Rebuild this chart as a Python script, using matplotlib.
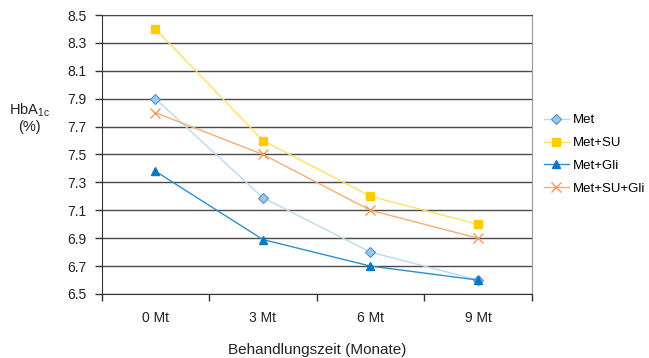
import matplotlib
matplotlib.use("Agg")
from matplotlib import pyplot as plt
import numpy as np

plt.rcParams['font.family'] = ['Liberation Sans', 'DejaVu Sans']
plt.rcParams['mathtext.fontset'] = 'custom'
plt.rcParams['mathtext.rm'] = 'Liberation Sans'

# data
months = ["0 Mt", "3 Mt", "6 Mt", "9 Mt"]
met = [7.9, 7.19, 6.8, 6.6]
met_su = [8.4, 7.6, 7.2, 7.0]
met_gli = [7.38, 6.89, 6.7, 6.6]
met_su_gli = [7.8, 7.5, 7.1, 6.9]
yticks = [6.5, 6.7, 6.9, 7.1, 7.3, 7.5, 7.7, 7.9, 8.1, 8.3, 8.5]

fig = plt.figure(figsize=(6.49, 3.58), dpi=100)
ax = fig.add_axes([0.1567, 0.1788, 0.6626, 0.7793])

x = np.arange(len(months))
ax.plot(x, met, color='#b9dbf2', lw=1, marker='D', ms=5,
        mfc='#9cc8ec', mec='#4f93cc', mew=0.8, label='Met')
ax.plot(x, met_su, color='#ffe066', lw=1, marker='s', ms=6,
        mfc='#ffcc00', mec='#ffcc00', label='Met+SU')
ax.plot(x, met_gli, color='#2d8fd0', lw=1, marker='^', ms=6,
        mfc='#0a78c2', mec='#0a78c2', label='Met+Gli')
ax.plot(x, met_su_gli, color='#f7ad78', lw=1, marker='x', ms=6.5,
        mec='#f39a5e', mew=1, label='Met+SU+Gli')

ax.set_xlim(-0.5, 3.5)
ax.set_ylim(6.5, 8.5)
ax.set_yticks(yticks)
ax.set_yticklabels([f"{v:.1f}" for v in yticks], fontsize=10, color='#222222')
for v in yticks:
    ax.axhline(v, color='#4a4a4a', lw=1, zorder=0)

ax.set_xticks([-0.5, 0.5, 1.5, 2.5, 3.5])
ax.set_xticklabels([])
ax.set_xticks(x, minor=True)
ax.set_xticklabels(months, minor=True, fontsize=10, color='#222222')
ax.tick_params(axis='x', which='minor', length=0, pad=12)
ax.tick_params(axis='x', which='major', length=5, width=1, color='#333333')
ax.tick_params(axis='y', length=5, width=1, color='#333333', pad=6)

ax.spines['left'].set_color('#333333')
ax.spines['bottom'].set_color('#333333')
ax.spines['top'].set_color('#4a4a4a')
ax.spines['right'].set_color('#999999')

fig.text(0.046, 0.693, r"HbA$_\mathregular{1c}$", fontsize=10.5, ha='center', va='center', color='#222222')
fig.text(0.046, 0.645, "(%)", fontsize=10.5, ha='center', va='center', color='#222222')
ax.set_xlabel("Behandlungszeit (Monate)", fontsize=11, color='#222222', labelpad=13)

ax.legend(loc='center left', bbox_to_anchor=(1.0, 0.5), frameon=False,
          fontsize=9.5, handlelength=1.9, handletextpad=0.3, labelspacing=0.8,
          borderaxespad=0.5)

fig.savefig("out.png", dpi=100)
